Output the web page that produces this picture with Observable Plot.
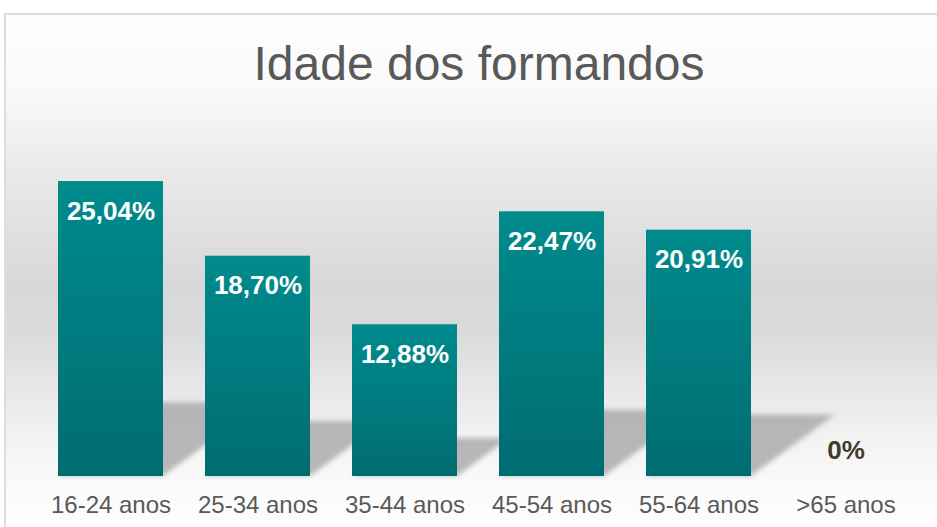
<!DOCTYPE html>
<html>
<head>
<meta charset="utf-8">
<script src="https://cdn.jsdelivr.net/npm/d3@7"></script>
<script src="https://cdn.jsdelivr.net/npm/@observablehq/plot@0.6"></script>
<style>
  body { margin: 0; background: #ffffff; }
  #wrap { position: relative; width: 937px; height: 527px; overflow: hidden;
          font-family: "Liberation Sans", Arial, sans-serif; }
  #frame { position: absolute; left: 4px; top: 13px; width: 1000px; height: 600px;
           border: 2px solid #dddddd; box-sizing: border-box;
           background: linear-gradient(to bottom, #fefefe 0px, #f9f9f9 77px, #e9e9e9 157px,
             #d8d8d8 267px, #dadada 317px, #e6e6e6 367px, #f3f3f3 427px, #fbfbfb 477px, #fdfdfd 514px); }
  #title { position: absolute; left: 0; width: 958px; top: 40px; text-align: center;
           font-size: 48px; line-height: 48px; color: #595959; }
  #chart { position: absolute; left: 0; top: 0; }
</style>
</head>
<body>
<div id="wrap">
  <div id="frame"></div>
  <div id="title">Idade dos formandos</div>
  <div id="chart"></div>
</div>
<script>
const categories = ["16-24 anos", "25-34 anos", "35-44 anos", "45-54 anos", "55-64 anos", ">65 anos"];
const shares = [25.04, 18.70, 12.88, 22.47, 20.91, 0];

const data = categories.map((cat, i) => ({cat, share: shares[i]}));
const fmt = v => v === 0 ? "0%" : v.toFixed(2).replace(".", ",") + "%";
const font = '"Liberation Sans", Arial, sans-serif';

const defsMark = () => {
  const defs = d3.create("svg:defs");
  const lg = defs.append("linearGradient").attr("id", "barGrad")
    .attr("x1", 0).attr("y1", 0).attr("x2", 0).attr("y2", 1);
  lg.append("stop").attr("offset", "0%").attr("stop-color", "#008b8d");
  lg.append("stop").attr("offset", "100%").attr("stop-color", "#006c71");
  const f = defs.append("filter").attr("id", "shadowBlur")
    .attr("x", "-30%").attr("y", "-30%").attr("width", "160%").attr("height", "160%");
  f.append("feGaussianBlur").attr("stdDeviation", 2.5);
  return defs.node();
};

const shadowMark = (index, scales) => {
  const x = scales.x, y = scales.y;
  const bw = typeof x.bandwidth === "function" ? x.bandwidth() : 0;
  const g = d3.create("svg:g").attr("filter", "url(#shadowBlur)");
  data.forEach(d => {
    if (!d.share) return;
    const x0 = x(d.cat), x1 = x0 + bw, yb = y(0), h = yb - y(d.share);
    const dx = 0.34 * h, dy = 0.25 * h;
    g.append("path")
      .attr("d", `M${x0},${yb}L${x1},${yb}L${x1 + dx},${yb - dy}L${x0 + dx},${yb - dy}Z`)
      .attr("fill", "#a2a2a2").attr("fill-opacity", 0.75);
  });
  return g.node();
};

const chart = Plot.plot({
  width: 937,
  height: 527,
  marginLeft: 37,
  marginRight: 18,
  marginTop: 122.6,
  marginBottom: 51,
  style: {background: "transparent", fontFamily: font, overflow: "visible"},
  x: {type: "band", domain: categories, paddingInner: 0.2857, paddingOuter: 0.1429, round: false, axis: null},
  y: {domain: [0, 30], axis: null},
  marks: [
    defsMark,
    shadowMark,
    Plot.barY(data, {x: "cat", y: "share", fill: "url(#barGrad)", insetLeft: 0, insetRight: 0}),
    Plot.text(data.filter(d => d.share > 0), {
      x: "cat", y: "share", text: d => fmt(d.share), fill: "#ffffff",
      fontSize: 26, fontWeight: "bold", fontFamily: font, dy: 38, lineAnchor: "bottom"
    }),
    Plot.text(data.filter(d => d.share === 0), {
      x: "cat", y: "share", text: d => fmt(d.share), fill: "#403a2b",
      fontSize: 26, fontWeight: "bold", fontFamily: font, dy: -18, lineAnchor: "bottom"
    }),
    Plot.text(data, {
      x: "cat", y: () => 0, text: "cat", fill: "#595959",
      fontSize: 24, fontFamily: font, dy: 36, lineAnchor: "bottom"
    })
  ]
});
document.getElementById("chart").appendChild(chart);
</script>
</body>
</html>
